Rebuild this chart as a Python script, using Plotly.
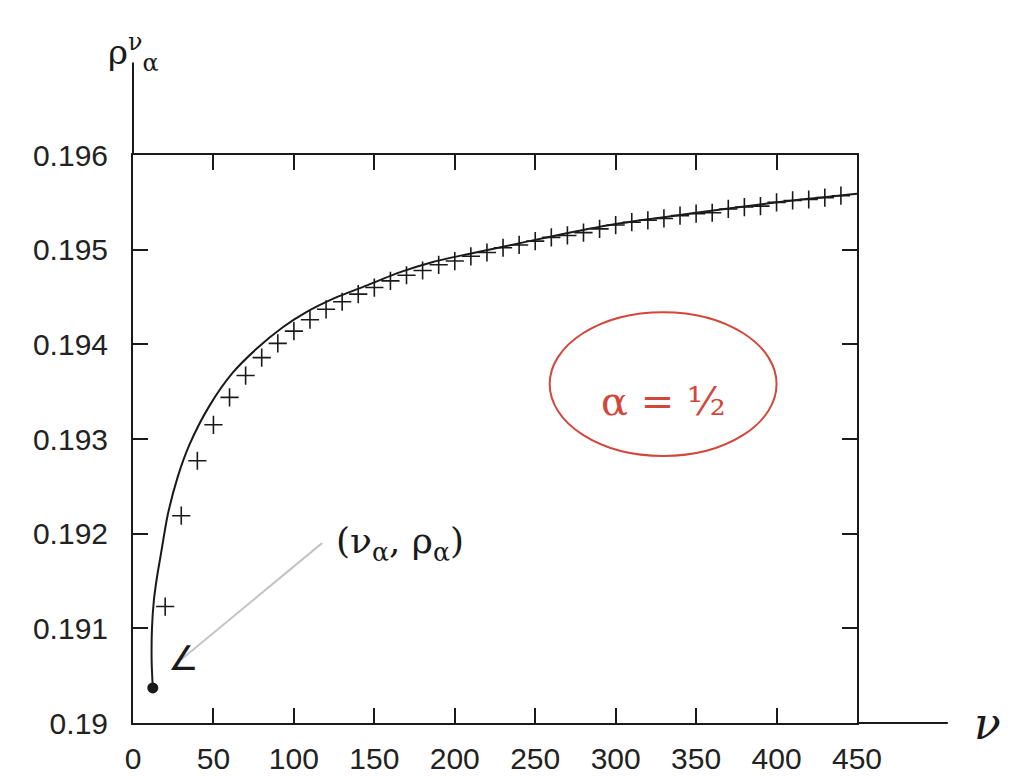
import plotly.graph_objects as go

# ---- data ----
nu_markers = [20, 30, 40, 50, 60, 70, 80, 90, 100, 110, 120, 130, 140, 150, 160,
              170, 180, 190, 200, 210, 220, 230, 240, 250, 260, 270, 280, 290, 300,
              310, 320, 330, 340, 350, 360, 370, 380, 390, 400, 410, 420, 430, 440]
rho_markers = [0.19123, 0.19219, 0.19277, 0.19315, 0.19344, 0.19367, 0.19386, 0.19401,
               0.19414, 0.19426, 0.19437, 0.19445, 0.19453, 0.19460, 0.19467, 0.19473,
               0.19478, 0.19484, 0.19488, 0.19493, 0.19497, 0.19502, 0.19505, 0.19509,
               0.19513, 0.19515, 0.19518, 0.19522, 0.19526, 0.19529, 0.19531, 0.19533,
               0.19536, 0.19538, 0.19539, 0.19543, 0.19545, 0.19546, 0.19550, 0.19552,
               0.19553, 0.19555, 0.19557]

nu_curve = [12.3, 11.6, 11.8, 13.0, 15.0, 17.5, 21.6, 27.8, 35.1, 47.5, 62.0, 76.6, 93.1,
            107.7, 124.2, 145.0, 165.7, 186.4, 207.2, 230, 260, 300, 350, 400, 450]
rho_curve = [0.19037, 0.19065, 0.19100, 0.19130, 0.19155, 0.19180, 0.19220, 0.19260,
             0.19294, 0.19335, 0.19370, 0.19395, 0.19418, 0.19434, 0.19448, 0.19462,
             0.19476, 0.19487, 0.19495, 0.19503, 0.19514, 0.19527, 0.19539, 0.19550,
             0.19559]

nu_alpha = [12.3]
rho_alpha = [0.19037]

x_ticks = [0, 50, 100, 150, 200, 250, 300, 350, 400, 450]
x_ticktext = ["0", "50", "100", "150", "200", "250", "300", "350", "400", "450"]
y_ticks = [0.190, 0.191, 0.192, 0.193, 0.194, 0.195, 0.196]
y_ticktext = ["0.19", "0.191", "0.192", "0.193", "0.194", "0.195", "0.196"]

INK = "#1a1a1a"
RED = "#d2473c"

fig = go.Figure()
fig.add_trace(go.Scatter(x=nu_curve, y=rho_curve, mode="lines",
                         line=dict(color=INK, width=2, shape="spline", smoothing=0.7),
                         showlegend=False, hoverinfo="skip"))
fig.add_trace(go.Scatter(x=nu_markers, y=rho_markers, mode="markers",
                         marker=dict(symbol="cross-thin-open", size=13, color=INK,
                                     line=dict(color=INK, width=1.6)),
                         showlegend=False))
fig.add_trace(go.Scatter(x=nu_alpha, y=rho_alpha, mode="markers",
                         marker=dict(symbol="circle", size=11, color=INK),
                         showlegend=False))

axis_common = dict(showline=True, linecolor=INK, linewidth=2, mirror="ticks",
                   ticks="inside", ticklen=15, tickwidth=2, tickcolor=INK,
                   showgrid=False, zeroline=False, automargin=False,
                   tickfont=dict(family="Liberation Sans, Arial, sans-serif", size=30, color="#222"))

fig.update_xaxes(range=[0, 450], tickvals=x_ticks, ticktext=x_ticktext,
                 ticklabelstandoff=8, **axis_common)
fig.update_yaxes(range=[0.190, 0.196], tickvals=y_ticks, ticktext=y_ticktext,
                 ticklabelstandoff=17, **axis_common)

shapes = [
    # extension of x axis to the right
    dict(type="line", xref="paper", yref="paper", x0=1, x1=1.1255, y0=0, y1=0,
         line=dict(color=INK, width=2)),
    # extension of y axis upward
    dict(type="line", xref="paper", yref="paper", x0=0, x1=0, y0=1, y1=1.163,
         line=dict(color=INK, width=2)),
    # grey pointer line
    dict(type="line", xref="x", yref="y", x0=117.5, y0=0.19190, x1=30, y1=0.19067,
         line=dict(color="#c4c4c4", width=2)),
    # red circle around alpha = 1/2
    dict(type="circle", xref="x", yref="y", x0=259, x1=400, y0=0.19282, y1=0.19434,
         line=dict(color=RED, width=2)),
]

annotations = [
    dict(text="ρ<sup>ν</sup><sub>α</sub>", xref="paper", yref="paper", x=0.0, y=1.18,
         showarrow=False, font=dict(family="DejaVu Serif", size=34, color=INK),
         xanchor="center", yanchor="middle"),
    dict(text="<i>ν</i>", xref="paper", yref="paper", x=1.18, y=0.0,
         showarrow=False, font=dict(family="DejaVu Serif", size=44, color=INK),
         xanchor="center", yanchor="middle"),
    dict(text="(ν<sub>α</sub>, ρ<sub>α</sub>)", x=166, y=0.19190, xref="x", yref="y",
         showarrow=False, font=dict(family="DejaVu Serif", size=36, color=INK),
         xanchor="center", yanchor="middle"),
    dict(text="∠", x=31, y=0.19069, xref="x", yref="y", showarrow=False,
         font=dict(family="DejaVu Sans", size=34, color=INK),
         xanchor="center", yanchor="middle"),
    dict(text="α = ½", x=330, y=0.19340, xref="x", yref="y", showarrow=False,
         font=dict(family="DejaVu Serif", size=40, color=RED),
         xanchor="center", yanchor="middle"),
]

fig.update_layout(width=1011, height=776, autosize=False,
                  margin=dict(l=133, r=154, t=155, b=53),
                  paper_bgcolor="white", plot_bgcolor="white",
                  shapes=shapes, annotations=annotations, showlegend=False)

fig.write_html("out.html", config={"displayModeBar": False},
               post_script="document.body.style.margin='0';document.body.style.overflow='hidden';")
